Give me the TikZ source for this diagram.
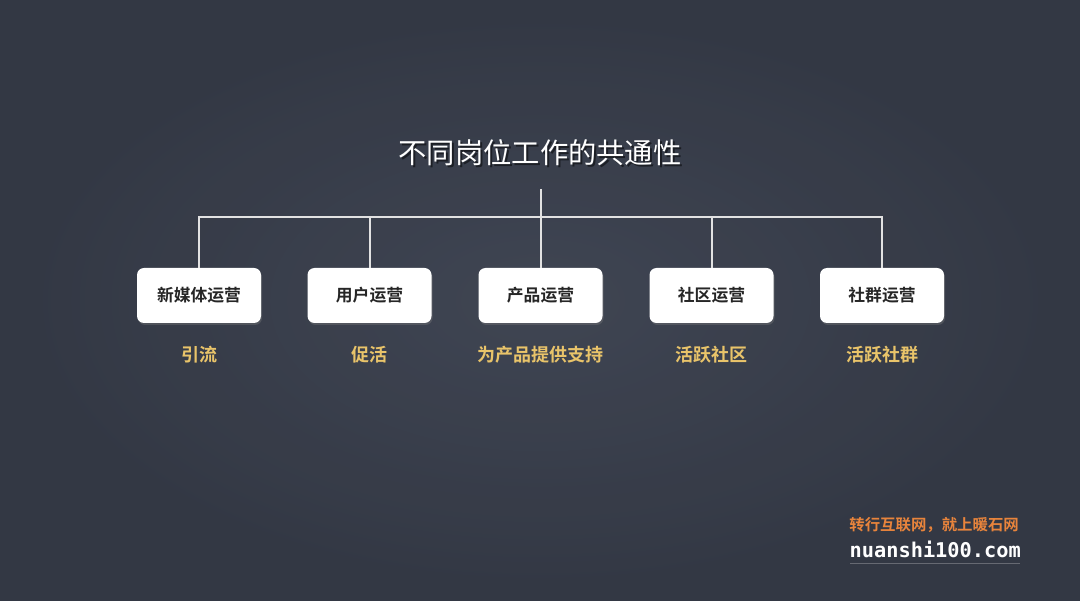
\documentclass[tikz,border=0pt]{standalone}
\usepackage{fontspec}
\newfontfamily\cjk{Noto Sans CJK SC}
\newfontfamily\cjkb{Noto Sans CJK SC Bold}
\newfontfamily\monob{DejaVu Sans Mono Bold}
\usetikzlibrary{shadows}
\definecolor{board}{HTML}{333844}
\definecolor{boardlight}{HTML}{434957}
\definecolor{chalk}{HTML}{E2E2E2}
\definecolor{gold}{HTML}{E9C46A}
\definecolor{orangewm}{HTML}{E8843C}
\tikzset{
  rolebox/.style={draw=none, fill=white, rounded corners=7pt, minimum width=124pt, minimum height=55pt, inner sep=0pt,
    font=\cjkb\fontsize{16.8}{19}\selectfont, text=black!85, drop shadow={shadow xshift=1pt, shadow yshift=-2pt, opacity=0.35}},
  goal/.style={text=gold, font=\cjkb\fontsize{18}{20}\selectfont, inner sep=0pt},
  chalkline/.style={draw=chalk, line width=2pt},
}
\begin{document}
\begin{tikzpicture}[x=1pt,y=-1pt]
\useasboundingbox (0,0) rectangle (1080,601);
\fill[board] (0,0) rectangle (1080,601);
\shade[inner color=boardlight, outer color=board, opacity=0.8] (0,0) rectangle (1080,601);
% title
\node[text=black, opacity=0.5, font=\cjk\fontsize{28.3}{32}\selectfont, inner sep=0pt] at (542,155) {不同岗位工作的共通性};
\node (title) [text=white, font=\cjk\fontsize{28.3}{32}\selectfont, inner sep=0pt] at (540,153) {不同岗位工作的共通性};
% boxes
\node (b1) [rolebox] at (199,295.5) {新媒体运营};
\node (b2) [rolebox] at (369.5,295.5) {用户运营};
\node (b3) [rolebox] at (540.5,295.5) {产品运营};
\node (b4) [rolebox] at (711.5,295.5) {社区运营};
\node (b5) [rolebox] at (882,295.5) {社群运营};
% goals
\node (g1) [goal] at (199,355) {引流};
\node (g2) [goal] at (369.5,355) {促活};
\node (g3) [goal] at (540.5,355) {为产品提供支持};
\node (g4) [goal] at (711.5,355) {活跃社区};
\node (g5) [goal] at (882,355) {活跃社群};
% connectors
\coordinate (top) at (540.5,189);
\coordinate (hub) at (540.5,217);
\draw[chalkline] (top) -- (hub);
\draw[chalkline] (b1.north) |- (hub);
\draw[chalkline] (b5.north) |- (hub);
\draw[chalkline] (b2.north) -- (b2.north |- hub);
\draw[chalkline] (b3.north) -- (hub);
\draw[chalkline] (b4.north) -- (b4.north |- hub);
% watermark
\node (wm1) [anchor=east, text=orangewm, font=\cjkb\fontsize{15.4}{17}\selectfont, inner sep=0pt] at (1019,525) {转行互联网，就上暖石网};
\node (wm2) [anchor=east, text=white, font=\monob\fontsize{20.3}{22}\selectfont, inner sep=0pt] at (1021,549) {nuanshi100.com};
\draw[white, opacity=0.25, line width=0.8pt] (850,563) -- (1020,563);
\end{tikzpicture}
\end{document}
